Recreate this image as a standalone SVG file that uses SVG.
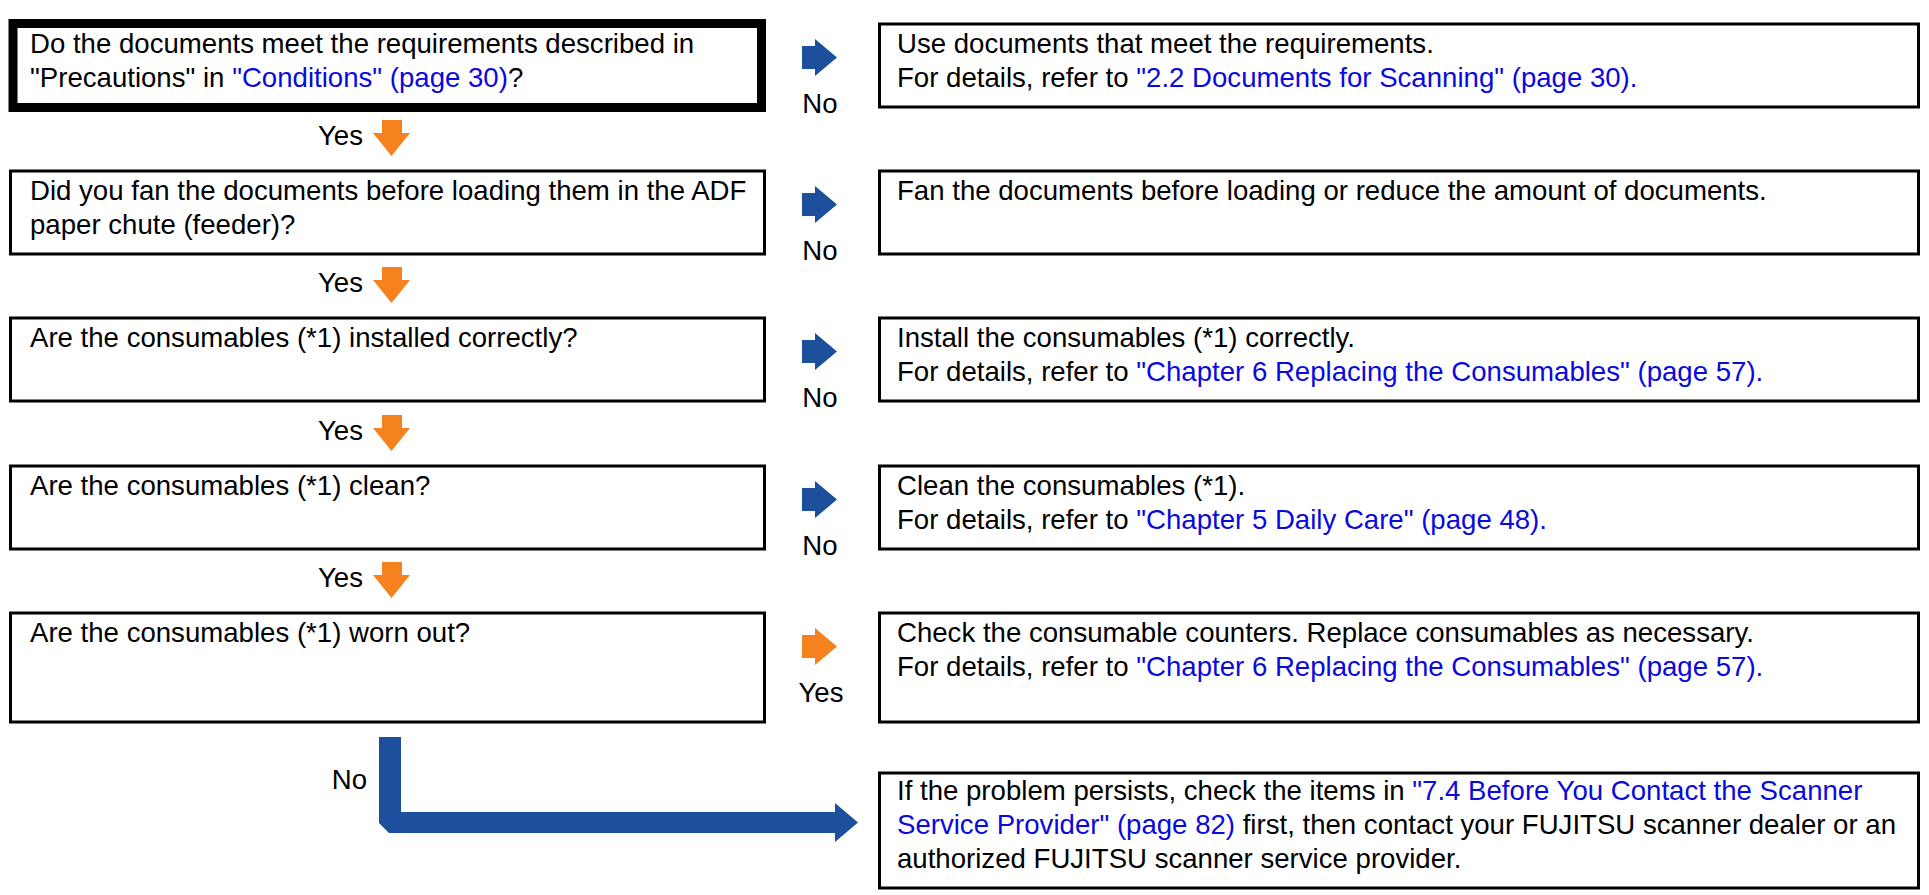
<svg xmlns="http://www.w3.org/2000/svg" width="1929" height="895" viewBox="0 0 1929 895">
<style>
text{font-family:"Liberation Sans",Arial,sans-serif;font-size:27.6px;fill:#000}
.lk{fill:#0a0adc}
.lbl{text-anchor:middle}
.box{fill:#fff;stroke:#000;stroke-width:3}
.thick{fill:#fff;stroke:#000;stroke-width:9}
.blue{fill:#1c4f9c}
.orange{fill:#f5821f}
</style>
<defs>
<path id="ra" d="M0,7 H13 V0 L35,18.5 L13,37 V30 H0 Z"/>
<path id="da" d="M9,0 H29 V13 H37 L18.5,36 L0,13 H9 Z"/>
</defs>
<rect width="1929" height="895" fill="#fff"/>

<g id="q1">
<rect class="thick" x="13" y="23.5" width="748.5" height="84"/>
<text x="30" y="53">Do the documents meet the requirements described in</text>
<text x="30" y="87">"Precautions" in <tspan class="lk">"Conditions" (page 30)</tspan>?</text>
</g>
<g id="a1">
<rect class="box" x="879.5" y="24" width="1039" height="83"/>
<text x="897" y="53">Use documents that meet the requirements.</text>
<text x="897" y="87">For details, refer to <tspan class="lk">"2.2 Documents for Scanning" (page 30).</tspan></text>
</g>

<g id="q2">
<rect class="box" x="10.5" y="171" width="754" height="83"/>
<text x="30" y="200">Did you fan the documents before loading them in the ADF</text>
<text x="30" y="234">paper chute (feeder)?</text>
</g>
<g id="a2">
<rect class="box" x="879.5" y="171" width="1039" height="83"/>
<text x="897" y="200">Fan the documents before loading or reduce the amount of documents.</text>
</g>

<g id="q3">
<rect class="box" x="10.5" y="318" width="754" height="83"/>
<text x="30" y="347">Are the consumables (*1) installed correctly?</text>
</g>
<g id="a3">
<rect class="box" x="879.5" y="318" width="1039" height="83"/>
<text x="897" y="347">Install the consumables (*1) correctly.</text>
<text x="897" y="381">For details, refer to <tspan class="lk">"Chapter 6 Replacing the Consumables" (page 57).</tspan></text>
</g>

<g id="q4">
<rect class="box" x="10.5" y="466" width="754" height="83"/>
<text x="30" y="495">Are the consumables (*1) clean?</text>
</g>
<g id="a4">
<rect class="box" x="879.5" y="466" width="1039" height="83"/>
<text x="897" y="495">Clean the consumables (*1).</text>
<text x="897" y="529">For details, refer to <tspan class="lk">"Chapter 5 Daily Care" (page 48).</tspan></text>
</g>

<g id="q5">
<rect class="box" x="10.5" y="613" width="754" height="109"/>
<text x="30" y="642">Are the consumables (*1) worn out?</text>
</g>
<g id="a5">
<rect class="box" x="879.5" y="613" width="1039" height="109"/>
<text x="897" y="642">Check the consumable counters. Replace consumables as necessary.</text>
<text x="897" y="676">For details, refer to <tspan class="lk">"Chapter 6 Replacing the Consumables" (page 57).</tspan></text>
</g>

<g id="end">
<rect class="box" x="879.5" y="773" width="1039" height="115"/>
<text x="897" y="800">If the problem persists, check the items in <tspan class="lk">"7.4 Before You Contact the Scanner</tspan></text>
<text x="897" y="834"><tspan class="lk">Service Provider" (page 82)</tspan> first, then contact your FUJITSU scanner dealer or an</text>
<text x="897" y="868">authorized FUJITSU scanner service provider.</text>
</g>

<g id="connectors">
<use href="#ra" class="blue" x="802" y="39"/>
<use href="#ra" class="blue" x="802" y="186"/>
<use href="#ra" class="blue" x="802" y="333"/>
<use href="#ra" class="blue" x="802" y="481"/>
<use href="#ra" class="orange" x="802" y="628"/>
<text class="lbl" x="820" y="113">No</text>
<text class="lbl" x="820" y="260">No</text>
<text class="lbl" x="820" y="407">No</text>
<text class="lbl" x="820" y="555">No</text>
<text class="lbl" x="821" y="702">Yes</text>

<use href="#da" class="orange" x="373" y="120"/>
<use href="#da" class="orange" x="373" y="267"/>
<use href="#da" class="orange" x="373" y="415"/>
<use href="#da" class="orange" x="373" y="562"/>
<text x="318" y="145">Yes</text>
<text x="318" y="292">Yes</text>
<text x="318" y="440">Yes</text>
<text x="318" y="587">Yes</text>

<path class="blue" d="M379,737 H401 V812 H835 V803 L858,822.5 L835,842 V833 H389 L379,823 Z"/>
<text class="lbl" x="349.5" y="789">No</text>
</g>
</svg>
